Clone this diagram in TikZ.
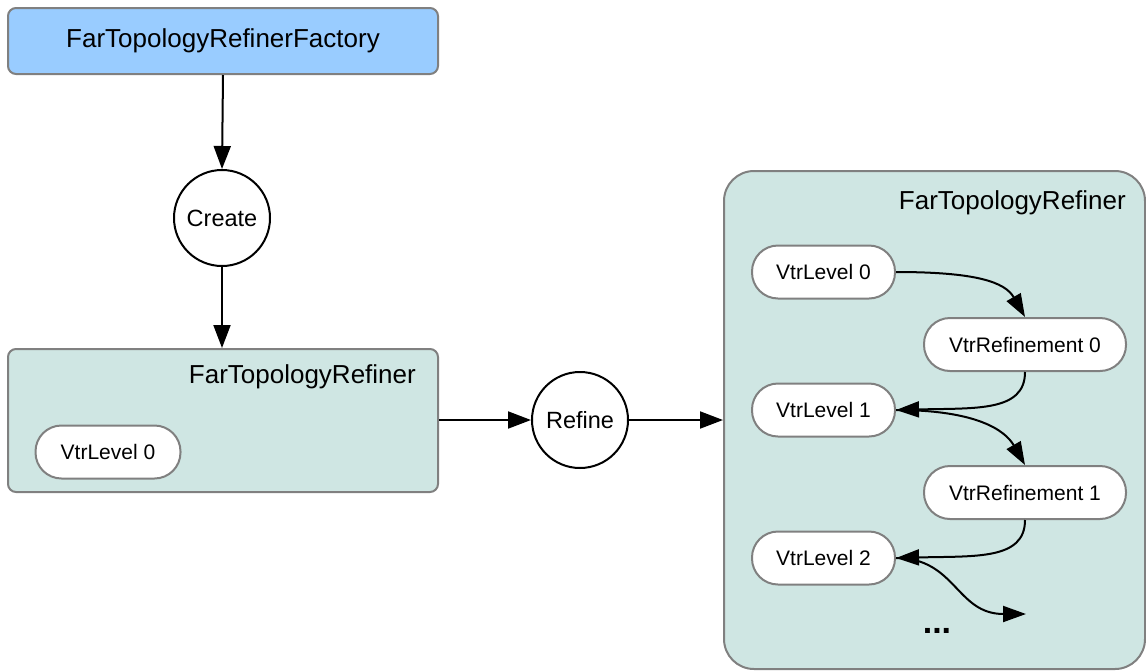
\documentclass[tikz,border=0pt]{standalone}
\usepackage{fontspec}
\setmainfont{Liberation Sans}
\usetikzlibrary{arrows.meta}
\definecolor{factoryblue}{HTML}{99CCFF}
\definecolor{refinerteal}{HTML}{CFE6E3}
\definecolor{bordergray}{HTML}{808080}
\tikzset{
  panel/.style={draw=bordergray, line width=2pt, rounded corners=#1},
  pill/.style={draw=bordergray, line width=2pt, fill=white, rounded corners=26pt,
    minimum width=143pt, minimum height=53pt, inner sep=0pt,
    font=\fontsize{21}{25}\selectfont},
  pillwide/.style={pill, minimum width=202pt},
  opcircle/.style={draw=black, line width=2pt, fill=white, circle,
    minimum size=96pt, inner sep=0pt, font=\fontsize{23.5}{28}\selectfont},
  boxtitle/.style={font=\fontsize{26}{31}\selectfont, inner sep=0pt},
  flow/.style={line width=2pt, -{Triangle[length=23pt,width=17pt]}},
  curveflow/.style={line width=2pt, -{Triangle[length=23pt,width=16pt]}},
}
\begin{document}
\begin{tikzpicture}[x=1pt,y=-1pt]
\useasboundingbox (0,0) rectangle (1146,670);

% factory box
\node[panel=8pt, fill=factoryblue, minimum width=430pt, minimum height=66pt,
      font=\fontsize{26}{31}\selectfont] (factory) at (223,41) {FarTopologyRefinerFactory};

% create step
\node[opcircle] (create) at (222,218) {Create};

% refiner before refinement
\node[panel=8pt, fill=refinerteal, minimum width=430pt, minimum height=143pt] (refinerA) at (223,420.5) {};
\node[boxtitle, anchor=east] (refinerAtitle) at (416,377) {FarTopologyRefiner};
\node[pill, minimum width=145pt] (lvA0) at (108,452) {VtrLevel 0};

% refine step
\node[opcircle] (refine) at (580,420) {Refine};

% refiner after refinement
\node[panel=30pt, fill=refinerteal, minimum width=421pt, minimum height=498pt] (refinerB) at (934.5,420) {};
\node[boxtitle, anchor=east] (refinerBtitle) at (1126,203) {FarTopologyRefiner};
\node[pill] (lv0) at (823.5,272) {VtrLevel 0};
\node[pillwide] (rf0) at (1025,344.5) {VtrRefinement 0};
\node[pill] (lv1) at (823.5,410) {VtrLevel 1};
\node[pillwide] (rf1) at (1025,492.5) {VtrRefinement 1};
\node[pill] (lv2) at (823.5,558) {VtrLevel 2};
\coordinate (more) at (1026,614);
\node[font=\fontsize{34}{40}\selectfont\bfseries, inner sep=0pt] (dots) at (937,631) {...};

% main flow
\draw[flow] (factory.south) -- (create.north);
\draw[flow] (create.south) -- (refinerA.north -| create.south);
\draw[flow] (refinerA.east |- refine.west) -- (refine.west);
\draw[flow] (refine.east) -- (refinerB.west |- refine.east);

% level / refinement chain
\draw[curveflow] (lv0.east) .. controls +(80,0) and +(-20,-35) .. (rf0.north);
\draw[curveflow] (rf0.south) .. controls +(0,40) and +(80,-2) .. (lv1.east);
\draw[curveflow] (lv1.east) .. controls +(80,0) and +(-20,-35) .. (rf1.north);
\draw[curveflow] (rf1.south) .. controls +(0,40) and +(80,-2) .. (lv2.east);
\draw[curveflow] (lv2.east) .. controls +(60,0) and +(-70,0) .. (more);
\end{tikzpicture}
\end{document}
